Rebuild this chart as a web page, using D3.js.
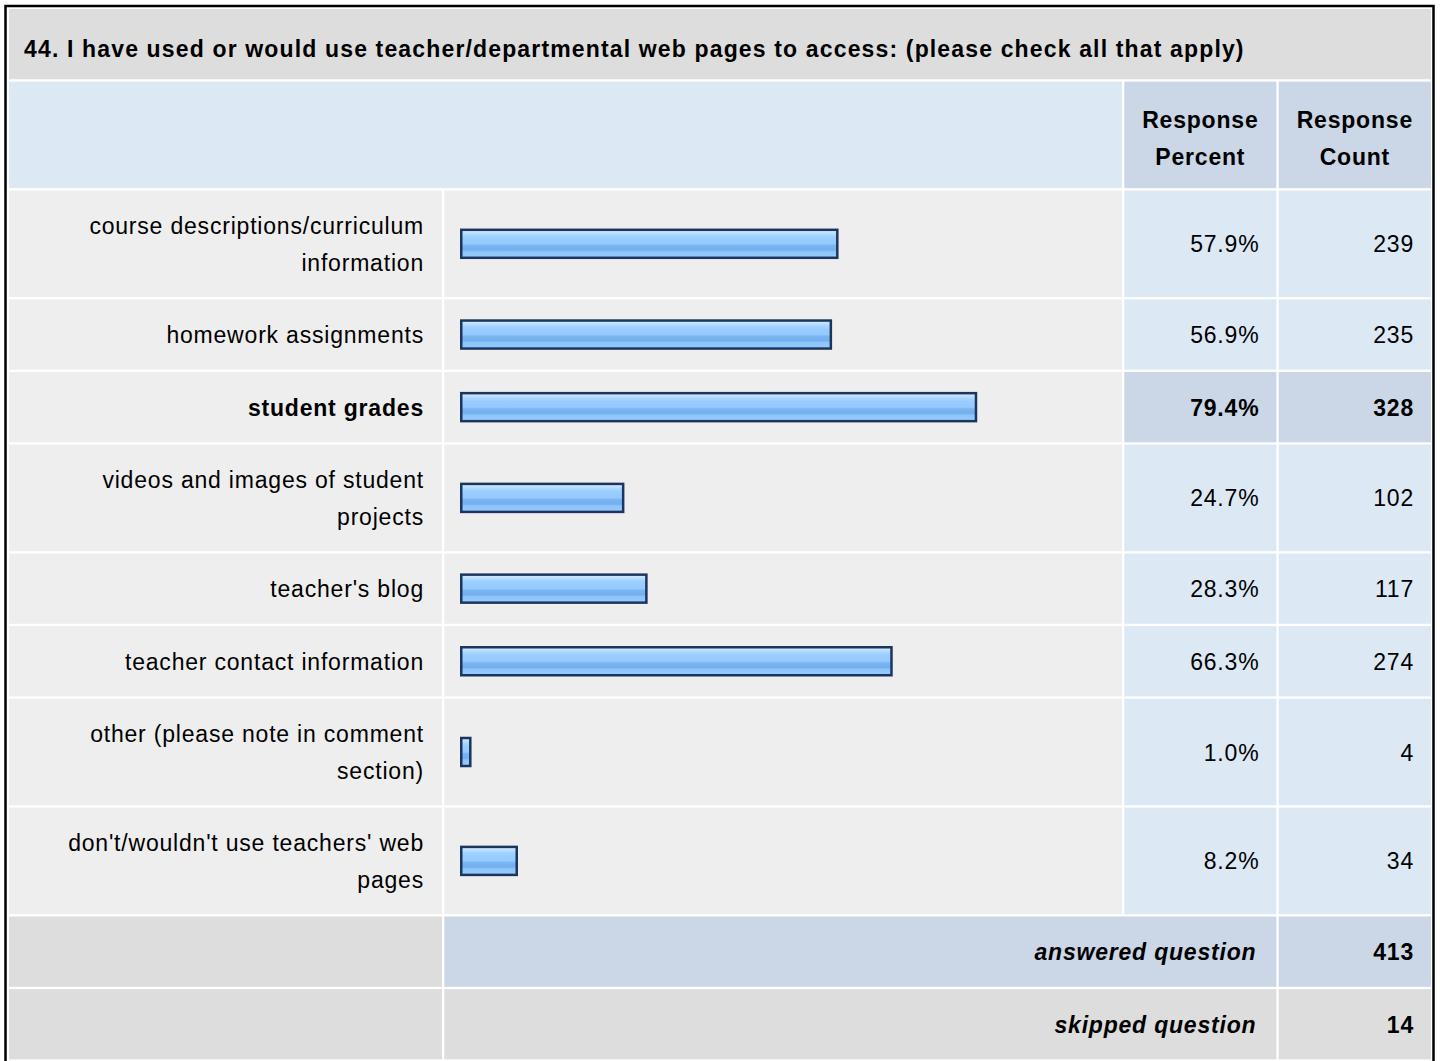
<!DOCTYPE html>
<html>
<head>
<meta charset="utf-8">
<script src="https://cdnjs.cloudflare.com/ajax/libs/d3/7.8.5/d3.min.js"></script>
<style>
  body { margin: 0; background: #fff; }
  svg text { font-family: "Liberation Sans", Arial, sans-serif; fill: #000; }
</style>
</head>
<body>
<svg id="chart" width="1440" height="1061"></svg>
<script>
// survey data
const title = "44. I have used or would use teacher/departmental web pages to access: (please check all that apply)";
const categories = [
    "course descriptions/curriculum information",
    "homework assignments",
    "student grades",
    "videos and images of student projects",
    "teacher's blog",
    "teacher contact information",
    "other (please note in comment section)",
    "don't/wouldn't use teachers' web pages"
];
const percents = [57.9, 56.9, 79.4, 24.7, 28.3, 66.3, 1.0, 8.2];
const counts = [239, 235, 328, 102, 117, 274, 4, 34];
const headerLabels = [["Response", "Percent"], ["Response", "Count"]];
const summaryLabels = ["answered question", "skipped question"];
const summaryValues = [413, 14];

let svg = d3.select('#chart'),
    fontSize = 23,
    spacing = 2.3,
    lineH = 36.3,
    rowH1 = 70.3,
    colX = [9, 444.3, 1124.3, 1278.7],
    colW = [433, 677.7, 152.1, 152.3],
    right = colX[3] + colW[3];

let highlight = percents.indexOf(d3.max(percents));

// bar start sits at 461.25 (inside the stroke)
let barX0 = 461.25;
let xScale = d3.scaleLinear()
    .domain([0, 100])
    .range([463.85, 1108.85]);

// outer frame
svg.append('rect')
    .attr('x', 5.5).attr('y', 6)
    .attr('width', 1428).attr('height', 1100)
    .attr('fill', '#fff')
    .attr('stroke', '#000')
    .attr('stroke-width', 2.5);

// gradient for bars
let grad = svg.append('defs').append('linearGradient')
    .attr('id', 'barGrad')
    .attr('x1', 0).attr('y1', 0).attr('x2', 0).attr('y2', 1);
[[0, '#d4ebff'], [0.1, '#c0e1ff'], [0.2, '#a6d4ff'], [0.3, '#99ccff'], [0.5, '#96c9fd'],
 [0.56, '#7bb5f1'], [0.72, '#73aeee'], [0.78, '#8cc3f9'], [1, '#99ccff']]
    .forEach(s => grad.append('stop').attr('offset', s[0]).attr('stop-color', s[1]));

let textStyle = sel => sel
    .style('font-size', fontSize + 'px')
    .style('letter-spacing', '0.8px');

// wrap a label into lines that fit the width
let measure = svg.append('text').call(textStyle).attr('x', -1000).attr('y', -1000);
function wrap(str, maxW) {
    let words = str.split(' '), lines = [], cur = '';
    words.forEach(w => {
        let test = cur ? cur + ' ' + w : w;
        measure.text(test);
        if (measure.node().getComputedTextLength() > maxW && cur) {
            lines.push(cur);
            cur = w;
        } else cur = test;
    });
    lines.push(cur);
    return lines;
}
let labelLines = categories.map(c => wrap(c, colW[0] - 30));
measure.remove();

let rowHeight = n => rowH1 + (n - 1) * lineH;

function cell(x, y, w, h, fill) {
    svg.append('rect')
        .attr('x', x).attr('y', y)
        .attr('width', w).attr('height', h)
        .attr('fill', fill);
}

function lines(arr, x, cy, anchor, weight, style, offset) {
    let t = svg.append('text')
        .call(textStyle)
        .attr('text-anchor', anchor)
        .style('font-weight', weight || 'normal')
        .style('font-style', style || 'normal');
    arr.forEach((l, i) => {
        t.append('tspan')
            .attr('x', x)
            .attr('y', cy + offset + (i - (arr.length - 1) / 2) * 37)
            .text(l);
    });
}

let y = 9;

// title row
cell(colX[0], y, right - colX[0], rowH1, '#dddddd');
svg.append('text')
    .call(textStyle)
    .style('letter-spacing', '1.15px')
    .attr('x', 24)
    .attr('y', 57)
    .style('font-weight', 'bold')
    .text(title);
y += rowH1 + spacing;

// header row
let hh = rowHeight(2);
cell(colX[0], y, colX[2] - spacing - colX[0], hh, '#dde8f5');
headerLabels.forEach((h, i) => {
    cell(colX[2 + i], y, colW[2 + i], hh, '#cbd7e6');
    lines(h, colX[2 + i] + colW[2 + i] / 2, y + hh / 2, 'middle', 'bold', null, 12);
});
y += hh + spacing;

// data rows
categories.forEach((c, i) => {
    let h = rowHeight(labelLines[i].length),
        cy = y + h / 2,
        isHi = i === highlight,
        weight = isHi ? 'bold' : 'normal';

    cell(colX[0], y, colW[0], h, '#eeeeee');
    cell(colX[1], y, colW[1], h, '#eeeeee');
    cell(colX[2], y, colW[2], h, isHi ? '#cbd7e6' : '#dde8f5');
    cell(colX[3], y, colW[3], h, isHi ? '#cbd7e6' : '#dde8f5');

    lines(labelLines[i], colX[0] + colW[0] - 18, cy, 'end', weight, null, 8.5);

    svg.append('rect')
        .attr('x', barX0)
        .attr('y', cy - 14)
        .attr('width', xScale(percents[i]) - barX0)
        .attr('height', 28)
        .attr('fill', 'url(#barGrad)')
        .attr('stroke', '#1b355f')
        .attr('stroke-width', 2.5);

    lines([percents[i].toFixed(1) + '%'], colX[2] + colW[2] - 17, cy, 'end', weight, null, 8.5);
    lines([String(counts[i])], colX[3] + colW[3] - 17, cy, 'end', weight, null, 8.5);

    y += h + spacing;
});

// summary rows
summaryLabels.forEach((s, i) => {
    let midFill = i === 0 ? '#cbd7e6' : '#dddddd',
        cy = y + rowH1 / 2;
    cell(colX[0], y, colW[0], rowH1, '#dddddd');
    cell(colX[1], y, colX[2] + colW[2] - colX[1], rowH1, midFill);
    cell(colX[3], y, colW[3], rowH1, midFill);
    lines([s], colX[2] + colW[2] - 20, cy, 'end', 'bold', 'italic', 8.5);
    lines([String(summaryValues[i])], colX[3] + colW[3] - 17, cy, 'end', 'bold', null, 8.5);
    y += rowH1 + spacing;
});
</script>
</body>
</html>
